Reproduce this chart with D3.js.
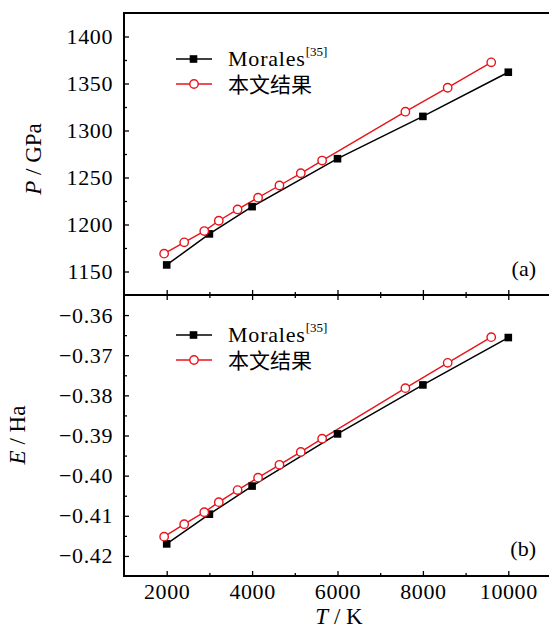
<!DOCTYPE html>
<html>
<head>
<meta charset="utf-8">
<script src="https://cdn.jsdelivr.net/npm/d3@7"></script>
<style>
    body { margin: 0; background: #fff; }
    .domain { display: none; }
</style>
</head>
<body>
<svg id="chart" width="549" height="635"></svg>
<script>
// Data
const tempMorales = [2000, 3000, 4000, 6000, 8000, 10000];
const pressureMorales = [1157, 1190, 1219, 1270, 1315, 1362];
const energyMorales = [-0.4170, -0.4096, -0.4026, -0.3896, -0.3774, -0.3656];

const tempOurs = [1940, 2410, 2880, 3220, 3660, 4140, 4640, 5140, 5640, 7590, 8580, 9600];
const pressureOurs = [1169, 1181, 1193, 1204, 1216, 1228.5, 1241.5, 1254.5, 1268, 1320, 1345.5, 1372.5];
const energyOurs = [-0.4152, -0.4121, -0.4091, -0.4066, -0.4036, -0.4005, -0.3973, -0.3941, -0.3908, -0.3782, -0.3719, -0.3655];

const tempTicks = [2000, 4000, 6000, 8000, 10000];
const tempMinor = [3000, 5000, 7000, 9000];
const pressureTicks = [1150, 1200, 1250, 1300, 1350, 1400];
const pressureMinor = [1175, 1225, 1275, 1325, 1375];
const energyTicks = [-0.42, -0.41, -0.40, -0.39, -0.38, -0.37, -0.36];
const energyMinor = [-0.415, -0.405, -0.395, -0.385, -0.375, -0.365];

const seriesNames = ["Morales", "本文结果"];
const panelLabels = ["(a)", "(b)"];

const SERIF = '"Liberation Serif", "DejaVu Serif", serif';
const CJK = '"Noto Sans CJK SC", sans-serif';

document.addEventListener('DOMContentLoaded', function() {
    const svg = d3.select("#chart");
    const left = 124, right = 551, top = 13, mid = 295, bottom = 576;

    const x = d3.scaleLinear().domain([1000, 11000]).range([left, right]);
    const yP = d3.scaleLinear().domain([1125, 1425]).range([mid, top]);
    const yE = d3.scaleLinear().domain([-0.425, -0.355]).range([bottom, mid]);

    const fmtE = v => d3.format(".2f")(v).replace("-", "\u2212");

    // frame lines (right side is cut off in the original)
    const frame = svg.append("g").attr("stroke", "#000").attr("stroke-width", 2);
    frame.append("line").attr("x1", left).attr("x2", left).attr("y1", top - 1).attr("y2", bottom + 1);
    frame.append("line").attr("x1", left).attr("x2", 549).attr("y1", top).attr("y2", top);
    frame.append("line").attr("x1", left).attr("x2", 549).attr("y1", mid).attr("y2", mid);
    frame.append("line").attr("x1", left).attr("x2", 549).attr("y1", bottom).attr("y2", bottom);

    function styleAxis(g) {
        g.attr("font-family", null);
        g.selectAll(".tick line").attr("stroke", "#000").attr("stroke-width", 1.3);
        g.selectAll(".tick text")
            .style("font-family", SERIF)
            .style("font-size", "22px")
            .style("letter-spacing", "0.6px")
            .attr("fill", "#000");
    }

    // x axes: ticks point inward
    svg.append("g").attr("transform", `translate(0,${mid})`)
        .call(d3.axisBottom(x).tickValues(tempTicks).tickSize(-5).tickFormat(""))
        .call(styleAxis);
    svg.append("g").attr("transform", `translate(0,${mid})`)
        .call(d3.axisBottom(x).tickValues(tempMinor).tickSize(-3).tickFormat(""))
        .call(styleAxis);
    svg.append("g").attr("transform", `translate(0,${mid})`)
        .call(d3.axisTop(x).tickValues(tempTicks).tickSize(-5).tickFormat(""))
        .call(styleAxis);
    svg.append("g").attr("transform", `translate(0,${mid})`)
        .call(d3.axisTop(x).tickValues(tempMinor).tickSize(-3).tickFormat(""))
        .call(styleAxis);
    svg.append("g").attr("transform", `translate(0,${bottom})`)
        .call(d3.axisBottom(x).tickValues(tempTicks).tickSize(-5).tickPadding(7).tickFormat(d3.format("d")))
        .call(styleAxis);
    svg.append("g").attr("transform", `translate(0,${bottom})`)
        .call(d3.axisBottom(x).tickValues(tempMinor).tickSize(-3).tickFormat(""))
        .call(styleAxis);

    // y axes
    svg.append("g").attr("transform", `translate(${left},0)`)
        .call(d3.axisLeft(yP).tickValues(pressureTicks).tickSize(-5).tickPadding(11).tickFormat(d3.format("d")))
        .call(styleAxis);
    svg.append("g").attr("transform", `translate(${left},0)`)
        .call(d3.axisLeft(yP).tickValues(pressureMinor).tickSize(-3).tickFormat(""))
        .call(styleAxis);
    svg.append("g").attr("transform", `translate(${left},0)`)
        .call(d3.axisLeft(yE).tickValues(energyTicks).tickSize(-5).tickPadding(11).tickFormat(fmtE))
        .call(styleAxis);
    svg.append("g").attr("transform", `translate(${left},0)`)
        .call(d3.axisLeft(yE).tickValues(energyMinor).tickSize(-3).tickFormat(""))
        .call(styleAxis);

    // axis titles
    const tx = svg.append("text").attr("x", 339).attr("y", 624).attr("text-anchor", "middle")
        .style("font-family", SERIF).style("font-size", "23px");
    tx.append("tspan").style("font-style", "italic").text("T");
    tx.append("tspan").text(" / K");

    const tp = svg.append("text").attr("transform", "translate(41,159) rotate(-90)")
        .attr("text-anchor", "middle").style("font-family", SERIF).style("font-size", "23px");
    tp.append("tspan").style("font-style", "italic").text("P");
    tp.append("tspan").text(" / GPa");

    const te = svg.append("text").attr("transform", "translate(25,435) rotate(-90)")
        .attr("text-anchor", "middle").style("font-family", SERIF).style("font-size", "23px");
    te.append("tspan").style("font-style", "italic").text("E");
    te.append("tspan").text(" / Ha");

    // draw both series into a panel
    function drawPanel(yScale, valsMorales, valsOurs) {
        const line = d3.line().x(d => x(d[0])).y(d => yScale(d[1]));
        const morales = d3.zip(tempMorales, valsMorales);
        const ours = d3.zip(tempOurs, valsOurs);

        svg.append("path").datum(morales).attr("d", line)
            .attr("fill", "none").attr("stroke", "#000").attr("stroke-width", 1.5);
        svg.append("path").datum(ours).attr("d", line)
            .attr("fill", "none").attr("stroke", "#e8141c").attr("stroke-width", 1.4);

        svg.selectAll(null).data(morales).enter().append("rect")
            .attr("x", d => x(d[0]) - 3.8).attr("y", d => yScale(d[1]) - 3.8)
            .attr("width", 7.6).attr("height", 7.6).attr("fill", "#000");
        svg.selectAll(null).data(ours).enter().append("circle")
            .attr("cx", d => x(d[0])).attr("cy", d => yScale(d[1])).attr("r", 4.2)
            .attr("fill", "#fff").attr("stroke", "#e8141c").attr("stroke-width", 1.4);
    }

    drawPanel(yP, pressureMorales, pressureOurs);
    drawPanel(yE, energyMorales, energyOurs);

    // legends
    function drawLegend(y0) {
        const g = svg.append("g");
        g.append("line").attr("x1", 176).attr("x2", 212).attr("y1", y0).attr("y2", y0)
            .attr("stroke", "#000").attr("stroke-width", 1.5);
        g.append("rect").attr("x", 193.5 - 3.8).attr("y", y0 - 3.8).attr("width", 7.6).attr("height", 7.6).attr("fill", "#000");
        const t = g.append("text").attr("x", 228).attr("y", y0 + 7)
            .style("font-family", SERIF).style("font-size", "22px").style("letter-spacing", "0.8px");
        t.append("tspan").text(seriesNames[0]);
        t.append("tspan").attr("dy", -10).style("font-size", "13px").style("letter-spacing", "0").text("[35]");

        const y1 = y0 + 25;
        g.append("line").attr("x1", 176).attr("x2", 212).attr("y1", y1).attr("y2", y1)
            .attr("stroke", "#e8141c").attr("stroke-width", 1.4);
        g.append("circle").attr("cx", 194).attr("cy", y1).attr("r", 4.2)
            .attr("fill", "#fff").attr("stroke", "#e8141c").attr("stroke-width", 1.4);
        g.append("text").attr("x", 228).attr("y", y1 + 8)
            .style("font-family", CJK).style("font-size", "21px").text(seriesNames[1]);
    }
    drawLegend(59);
    drawLegend(335);

    // panel labels
    svg.append("text").attr("x", 536).attr("y", 276).attr("text-anchor", "end")
        .style("font-family", SERIF).style("font-size", "22px").text(panelLabels[0]);
    svg.append("text").attr("x", 536).attr("y", 556).attr("text-anchor", "end")
        .style("font-family", SERIF).style("font-size", "22px").text(panelLabels[1]);
});
</script>
</body>
</html>
